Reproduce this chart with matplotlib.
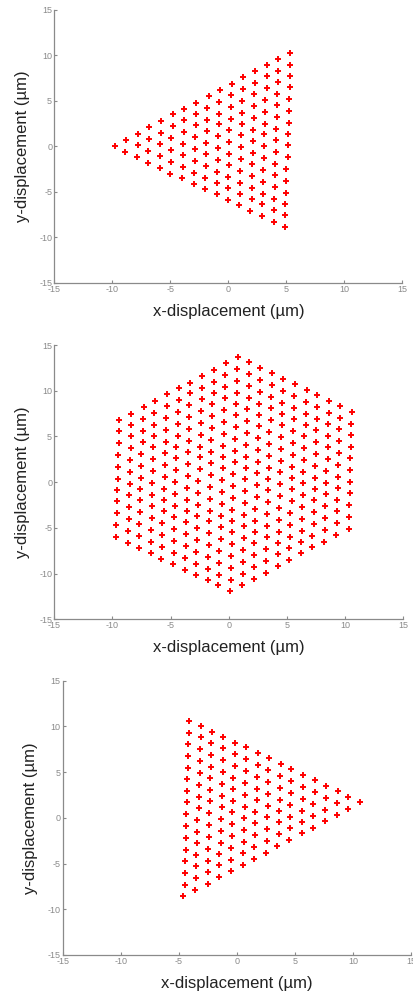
import matplotlib
matplotlib.use("Agg")
import matplotlib.pyplot as plt

plt.rcParams['font.family'] = ['Liberation Sans', 'DejaVu Sans']

# lattice points, one line per column (top to bottom)

# panel 1: triangle pointing left
tri1_x = [
    -9.8,
    -8.8, -8.9,
    -7.8, -7.8, -7.9,
    -6.8, -6.8, -6.9, -6.9,
    -5.8, -5.8, -5.9, -5.9, -5.9,
    -4.8, -4.8, -4.9, -4.9, -4.9, -5.0,
    -3.8, -3.8, -3.8, -3.9, -3.9, -3.9, -4.0,
    -2.8, -2.8, -2.8, -2.9, -2.9, -2.9, -3.0, -3.0,
    -1.7, -1.8, -1.8, -1.8, -1.9, -1.9, -1.9, -2.0, -2.0,
    -0.7, -0.8, -0.8, -0.8, -0.9, -0.9, -0.9, -1.0, -1.0, -1.0,
    0.3, 0.2, 0.2, 0.2, 0.1, 0.1, 0.1, 0.1, 0.0, 0.0, 0.0,
    1.3, 1.3, 1.2, 1.2, 1.2, 1.1, 1.1, 1.1, 1.0, 1.0, 1.0, 0.9,
    2.3, 2.3, 2.2, 2.2, 2.2, 2.1, 2.1, 2.1, 2.0, 2.0, 2.0, 2.0, 1.9,
    3.3, 3.3, 3.3, 3.2, 3.2, 3.2, 3.1, 3.1, 3.1, 3.0, 3.0, 3.0, 2.9, 2.9,
    4.3, 4.3, 4.3, 4.2, 4.2, 4.2, 4.1, 4.1, 4.1, 4.0, 4.0, 4.0, 3.9, 3.9, 3.9,
    5.3, 5.3, 5.3, 5.3, 5.2, 5.2, 5.2, 5.1, 5.1, 5.1, 5.0, 5.0, 5.0, 4.9, 4.9, 4.9,
]
tri1_y = [
    0.0,
    0.7, -0.6,
    1.4, 0.1, -1.2,
    2.1, 0.8, -0.5, -1.8,
    2.8, 1.5, 0.2, -1.1, -2.4,
    3.5, 2.2, 0.9, -0.4, -1.7, -3.0,
    4.1, 2.9, 1.6, 0.3, -1.0, -2.3, -3.5,
    4.8, 3.5, 2.3, 1.0, -0.3, -1.6, -2.9, -4.1,
    5.5, 4.2, 2.9, 1.7, 0.4, -0.9, -2.2, -3.5, -4.7,
    6.2, 4.9, 3.6, 2.4, 1.1, -0.2, -1.5, -2.8, -4.0, -5.3,
    6.9, 5.6, 4.3, 3.0, 1.8, 0.5, -0.8, -2.1, -3.4, -4.6, -5.9,
    7.6, 6.3, 5.0, 3.7, 2.4, 1.2, -0.1, -1.4, -2.7, -4.0, -5.2, -6.5,
    8.3, 7.0, 5.7, 4.4, 3.1, 1.8, 0.6, -0.7, -2.0, -3.3, -4.6, -5.8, -7.1,
    8.9, 7.7, 6.4, 5.1, 3.8, 2.5, 1.3, 0.0, -1.3, -2.6, -3.9, -5.2, -6.4, -7.7,
    9.6, 8.3, 7.1, 5.8, 4.5, 3.2, 1.9, 0.7, -0.6, -1.9, -3.2, -4.5, -5.8, -7.0, -8.3,
    10.3, 9.0, 7.7, 6.5, 5.2, 3.9, 2.6, 1.3, 0.1, -1.2, -2.5, -3.8, -5.1, -6.3, -7.6, -8.9,
]

# panel 2: hexagon
hex_x = [
    -9.4, -9.4, -9.4, -9.5, -9.5, -9.5, -9.6, -9.6, -9.6, -9.7, -9.7,
    -8.4, -8.4, -8.4, -8.4, -8.5, -8.5, -8.5, -8.6, -8.6, -8.6, -8.7, -8.7,
    -7.3, -7.4, -7.4, -7.4, -7.5, -7.5, -7.5, -7.6, -7.6, -7.6, -7.7, -7.7, -7.7,
    -6.3, -6.4, -6.4, -6.4, -6.5, -6.5, -6.5, -6.6, -6.6, -6.6, -6.6, -6.7, -6.7, -6.7,
    -5.3, -5.3, -5.4, -5.4, -5.4, -5.5, -5.5, -5.5, -5.6, -5.6, -5.6, -5.7, -5.7, -5.7, -5.8,
    -4.3, -4.3, -4.4, -4.4, -4.4, -4.5, -4.5, -4.5, -4.6, -4.6, -4.6, -4.7, -4.7, -4.7, -4.7, -4.8,
    -3.3, -3.3, -3.4, -3.4, -3.4, -3.4, -3.5, -3.5, -3.5, -3.6, -3.6, -3.6, -3.7, -3.7, -3.7, -3.8, -3.8,
    -2.3, -2.3, -2.3, -2.4, -2.4, -2.4, -2.5, -2.5, -2.5, -2.6, -2.6, -2.6, -2.7, -2.7, -2.7, -2.8, -2.8, -2.8,
    -1.3, -1.3, -1.3, -1.4, -1.4, -1.4, -1.5, -1.5, -1.5, -1.5, -1.6, -1.6, -1.6, -1.7, -1.7, -1.7, -1.8, -1.8, -1.8,
    -0.2, -0.3, -0.3, -0.3, -0.4, -0.4, -0.4, -0.5, -0.5, -0.5, -0.6, -0.6, -0.6, -0.7, -0.7, -0.7, -0.8, -0.8, -0.8, -0.9,
    0.8, 0.7, 0.7, 0.7, 0.6, 0.6, 0.6, 0.5, 0.5, 0.5, 0.4, 0.4, 0.4, 0.3, 0.3, 0.3, 0.3, 0.2, 0.2, 0.2, 0.1,
    1.7, 1.7, 1.7, 1.7, 1.6, 1.6, 1.6, 1.5, 1.5, 1.5, 1.4, 1.4, 1.4, 1.3, 1.3, 1.3, 1.2, 1.2, 1.2, 1.1,
    2.7, 2.7, 2.7, 2.6, 2.6, 2.6, 2.5, 2.5, 2.5, 2.4, 2.4, 2.4, 2.3, 2.3, 2.3, 2.2, 2.2, 2.2, 2.2,
    3.7, 3.7, 3.6, 3.6, 3.6, 3.5, 3.5, 3.5, 3.5, 3.4, 3.4, 3.4, 3.3, 3.3, 3.3, 3.2, 3.2, 3.2,
    4.7, 4.7, 4.6, 4.6, 4.6, 4.5, 4.5, 4.5, 4.4, 4.4, 4.4, 4.3, 4.3, 4.3, 4.2, 4.2, 4.2,
    5.7, 5.6, 5.6, 5.6, 5.5, 5.5, 5.5, 5.4, 5.4, 5.4, 5.4, 5.3, 5.3, 5.3, 5.2, 5.2,
    6.7, 6.6, 6.6, 6.6, 6.5, 6.5, 6.5, 6.4, 6.4, 6.4, 6.3, 6.3, 6.3, 6.2, 6.2,
    7.6, 7.6, 7.6, 7.5, 7.5, 7.5, 7.4, 7.4, 7.4, 7.3, 7.3, 7.3, 7.2, 7.2,
    8.6, 8.6, 8.5, 8.5, 8.5, 8.5, 8.4, 8.4, 8.4, 8.3, 8.3, 8.3, 8.2,
    9.6, 9.6, 9.5, 9.5, 9.5, 9.4, 9.4, 9.4, 9.3, 9.3, 9.3, 9.2,
    10.6, 10.5, 10.5, 10.5, 10.4, 10.4, 10.4, 10.4, 10.3, 10.3, 10.3,
]
hex_y = [
    6.8, 5.6, 4.3, 3.0, 1.7, 0.4, -0.9, -2.1, -3.4, -4.7, -6.0,
    7.5, 6.2, 5.0, 3.7, 2.4, 1.1, -0.2, -1.4, -2.7, -4.0, -5.3, -6.6,
    8.2, 6.9, 5.6, 4.4, 3.1, 1.8, 0.5, -0.8, -2.0, -3.3, -4.6, -5.9, -7.2,
    8.9, 7.6, 6.3, 5.0, 3.8, 2.5, 1.2, -0.1, -1.4, -2.6, -3.9, -5.2, -6.5, -7.8,
    9.6, 8.3, 7.0, 5.7, 4.4, 3.2, 1.9, 0.6, -0.7, -2.0, -3.2, -4.5, -5.8, -7.1, -8.4,
    10.3, 9.0, 7.7, 6.4, 5.1, 3.9, 2.6, 1.3, 0.0, -1.3, -2.6, -3.8, -5.1, -6.4, -7.7, -9.0,
    10.9, 9.7, 8.4, 7.1, 5.8, 4.5, 3.3, 2.0, 0.7, -0.6, -1.9, -3.1, -4.4, -5.7, -7.0, -8.3, -9.6,
    11.6, 10.3, 9.1, 7.8, 6.5, 5.2, 3.9, 2.7, 1.4, 0.1, -1.2, -2.5, -3.7, -5.0, -6.3, -7.6, -8.9, -10.1,
    12.3, 11.0, 9.8, 8.5, 7.2, 5.9, 4.6, 3.3, 2.1, 0.8, -0.5, -1.8, -3.1, -4.3, -5.6, -6.9, -8.2, -9.5, -10.7,
    13.0, 11.7, 10.4, 9.2, 7.9, 6.6, 5.3, 4.0, 2.8, 1.5, 0.2, -1.1, -2.4, -3.7, -4.9, -6.2, -7.5, -8.8, -10.1, -11.3,
    13.7, 12.4, 11.1, 9.8, 8.6, 7.3, 6.0, 4.7, 3.4, 2.2, 0.9, -0.4, -1.7, -3.0, -4.3, -5.5, -6.8, -8.1, -9.4, -10.7, -11.9,
    13.1, 11.8, 10.5, 9.2, 8.0, 6.7, 5.4, 4.1, 2.8, 1.6, 0.3, -1.0, -2.3, -3.6, -4.8, -6.1, -7.4, -8.7, -10.0, -11.3,
    12.5, 11.2, 9.9, 8.6, 7.4, 6.1, 4.8, 3.5, 2.2, 1.0, -0.3, -1.6, -2.9, -4.2, -5.4, -6.7, -8.0, -9.3, -10.6,
    11.9, 10.6, 9.3, 8.1, 6.8, 5.5, 4.2, 2.9, 1.6, 0.4, -0.9, -2.2, -3.5, -4.8, -6.0, -7.3, -8.6, -9.9,
    11.3, 10.0, 8.7, 7.5, 6.2, 4.9, 3.6, 2.3, 1.1, -0.2, -1.5, -2.8, -4.1, -5.4, -6.6, -7.9, -9.2,
    10.7, 9.4, 8.1, 6.9, 5.6, 4.3, 3.0, 1.7, 0.5, -0.8, -2.1, -3.4, -4.7, -6.0, -7.2, -8.5,
    10.1, 8.8, 7.5, 6.3, 5.0, 3.7, 2.4, 1.1, -0.1, -1.4, -2.7, -4.0, -5.3, -6.5, -7.8,
    9.5, 8.2, 6.9, 5.7, 4.4, 3.1, 1.8, 0.5, -0.7, -2.0, -3.3, -4.6, -5.9, -7.1,
    8.9, 7.6, 6.4, 5.1, 3.8, 2.5, 1.2, -0.1, -1.3, -2.6, -3.9, -5.2, -6.5,
    8.3, 7.0, 5.8, 4.5, 3.2, 1.9, 0.6, -0.6, -1.9, -3.2, -4.5, -5.8,
    7.7, 6.4, 5.2, 3.9, 2.6, 1.3, 0.0, -1.2, -2.5, -3.8, -5.1,
]

# panel 3: triangle pointing right
tri3_x = [
    -4.1, -4.1, -4.2, -4.2, -4.2, -4.3, -4.3, -4.3, -4.4, -4.4, -4.4, -4.4, -4.5, -4.5, -4.5, -4.6,
    -3.1, -3.1, -3.2, -3.2, -3.2, -3.3, -3.3, -3.3, -3.4, -3.4, -3.4, -3.5, -3.5, -3.5, -3.6,
    -2.1, -2.2, -2.2, -2.2, -2.3, -2.3, -2.3, -2.4, -2.4, -2.4, -2.5, -2.5, -2.5, -2.5,
    -1.2, -1.2, -1.2, -1.2, -1.3, -1.3, -1.3, -1.4, -1.4, -1.4, -1.5, -1.5, -1.5,
    -0.2, -0.2, -0.2, -0.3, -0.3, -0.3, -0.4, -0.4, -0.4, -0.5, -0.5, -0.5,
    0.8, 0.8, 0.8, 0.7, 0.7, 0.7, 0.6, 0.6, 0.6, 0.5, 0.5,
    1.8, 1.8, 1.7, 1.7, 1.7, 1.6, 1.6, 1.6, 1.5, 1.5,
    2.8, 2.7, 2.7, 2.7, 2.7, 2.6, 2.6, 2.6, 2.5,
    3.8, 3.7, 3.7, 3.7, 3.6, 3.6, 3.6, 3.5,
    4.7, 4.7, 4.7, 4.6, 4.6, 4.6, 4.5,
    5.7, 5.7, 5.7, 5.6, 5.6, 5.6,
    6.7, 6.7, 6.6, 6.6, 6.6,
    7.7, 7.7, 7.6, 7.6,
    8.7, 8.6, 8.6,
    9.6, 9.6,
    10.6,
]
tri3_y = [
    10.6, 9.3, 8.1, 6.8, 5.5, 4.2, 2.9, 1.7, 0.4, -0.9, -2.2, -3.5, -4.7, -6.0, -7.3, -8.6,
    10.0, 8.8, 7.5, 6.2, 4.9, 3.6, 2.3, 1.1, -0.2, -1.5, -2.8, -4.1, -5.3, -6.6, -7.9,
    9.4, 8.2, 6.9, 5.6, 4.3, 3.0, 1.8, 0.5, -0.8, -2.1, -3.4, -4.7, -5.9, -7.2,
    8.8, 7.6, 6.3, 5.0, 3.7, 2.4, 1.2, -0.1, -1.4, -2.7, -4.0, -5.2, -6.5,
    8.2, 7.0, 5.7, 4.4, 3.1, 1.8, 0.6, -0.7, -2.0, -3.3, -4.6, -5.8,
    7.7, 6.4, 5.1, 3.8, 2.5, 1.2, 0.0, -1.3, -2.6, -3.9, -5.2,
    7.1, 5.8, 4.5, 3.2, 1.9, 0.6, -0.6, -1.9, -3.2, -4.5,
    6.5, 5.2, 3.9, 2.6, 1.3, 0.1, -1.2, -2.5, -3.8,
    5.9, 4.6, 3.3, 2.0, 0.7, -0.5, -1.8, -3.1,
    5.3, 4.0, 2.7, 1.4, 0.1, -1.1, -2.4,
    4.7, 3.4, 2.1, 0.8, -0.5, -1.7,
    4.1, 2.8, 1.5, 0.2, -1.1,
    3.5, 2.2, 0.9, -0.4,
    2.9, 1.6, 0.3,
    2.3, 1.0,
    1.7,
]

ticks = [-15, -10, -5, 0, 5, 10, 15]
tick_labels = ['-15', '-10', '-5', '0', '5', '10', '15']

panels = [
    (tri1_x, tri1_y, [0.131, 0.7162, 0.841, 0.2738], -0.070, -0.078),
    (hex_x, hex_y, [0.131, 0.3782, 0.843, 0.2754], -0.070, -0.075),
    (tri3_x, tri3_y, [0.1514, 0.0412, 0.8413, 0.2754], -0.071, -0.077),
]

fig = plt.figure(figsize=(4.14, 9.96), dpi=100)

for xs, ys, rect, ylab_x, xlab_y in panels:
    ax = fig.add_axes(rect)
    ax.plot(xs, ys, linestyle='none', marker='+', markersize=4,
            markeredgewidth=1.4, color='#ff0000')
    ax.set_xlim(-15, 15)
    ax.set_ylim(-15, 15)
    ax.set_xticks(ticks)
    ax.set_yticks(ticks)
    ax.set_xticklabels(tick_labels)
    ax.set_yticklabels(tick_labels)
    ax.spines['top'].set_visible(False)
    ax.spines['right'].set_visible(False)
    for side in ['left', 'bottom']:
        ax.spines[side].set_color('#8a8a8a')
        ax.spines[side].set_linewidth(0.9)
    ax.tick_params(direction='in', length=2.5, width=0.8, color='#8a8a8a',
                   labelsize=6.5, labelcolor='#8a8a8a', pad=1.5)
    ax.set_xlabel('x-displacement (µm)', fontsize=12, color='#222222')
    ax.set_ylabel('y-displacement (µm)', fontsize=12, color='#222222')
    ax.xaxis.set_label_coords(0.5, xlab_y)
    ax.yaxis.set_label_coords(ylab_x, 0.5)

fig.savefig('out.png', dpi=100)
